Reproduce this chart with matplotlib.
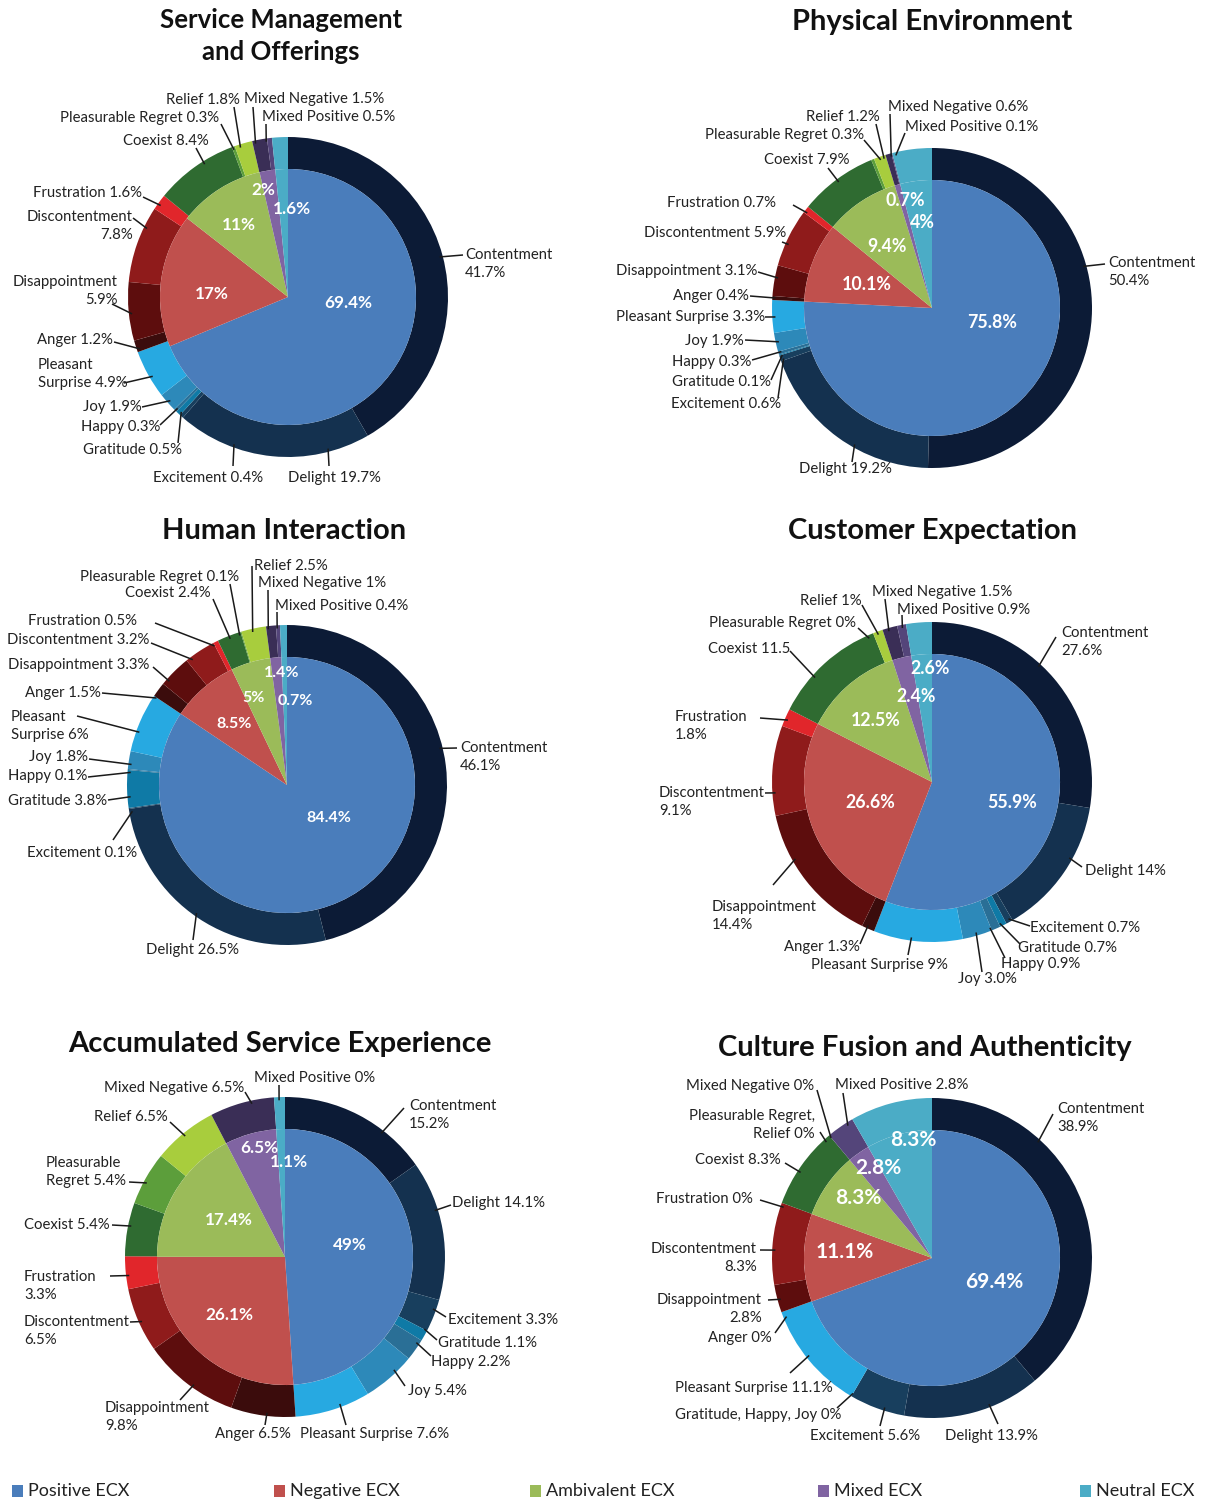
import math

import matplotlib.pyplot as plt
from matplotlib.patches import Rectangle

W, H = 1205, 1502

# Sub-emotions in the outer ring (clockwise from 12 o'clock)
categories = ["Contentment", "Delight", "Excitement", "Gratitude", "Happy", "Joy",
              "Pleasant Surprise", "Anger", "Disappointment", "Discontentment",
              "Frustration", "Coexist", "Pleasurable Regret", "Relief",
              "Mixed Negative", "Mixed Positive", "Neutral"]
groups = ["Positive ECX", "Negative ECX", "Ambivalent ECX", "Mixed ECX", "Neutral ECX"]

titles = ["Service Management\nand Offerings", "Physical Environment",
          "Human Interaction", "Customer Expectation",
          "Accumulated Service Experience", "Culture Fusion and Authenticity"]

sm_outer = [41.7, 19.7, 0.4, 0.5, 0.3, 1.9, 4.9, 1.2, 5.9, 7.8, 1.6, 8.4, 0.3, 1.8, 1.5, 0.5, 1.6]
pe_outer = [50.4, 19.2, 0.6, 0.1, 0.3, 1.9, 3.3, 0.4, 3.1, 5.9, 0.7, 7.9, 0.3, 1.2, 0.6, 0.1, 4.0]
hi_outer = [46.1, 26.5, 0.1, 3.8, 0.1, 1.8, 6.0, 1.5, 3.3, 3.2, 0.5, 2.4, 0.1, 2.5, 1.0, 0.4, 0.7]
ce_outer = [27.6, 14.0, 0.7, 0.7, 0.9, 3.0, 9.0, 1.3, 14.4, 9.1, 1.8, 11.5, 0.0, 1.0, 1.5, 0.9, 2.6]
ase_outer = [15.2, 14.1, 3.3, 1.1, 2.2, 5.4, 7.6, 6.5, 9.8, 6.5, 3.3, 5.4, 5.4, 6.5, 6.5, 0.0, 1.1]
cfa_outer = [38.9, 13.9, 5.6, 0.0, 0.0, 0.0, 11.1, 0.0, 2.8, 8.3, 0.0, 8.3, 0.0, 0.0, 0.0, 2.8, 8.3]

sm_inner = [69.4, 17, 11, 2, 1.6]
pe_inner = [75.8, 10.1, 9.4, 0.7, 4]
hi_inner = [84.4, 8.5, 5, 1.4, 0.7]
ce_inner = [55.9, 26.6, 12.5, 2.4, 2.6]
ase_inner = [49, 26.1, 17.4, 6.5, 1.1]
cfa_inner = [69.4, 11.1, 8.3, 2.8, 8.3]

outer_colors = ["#0c1b36", "#14314f", "#183f5e", "#0f7aa6", "#2a6f96", "#2d89b9",
                "#27a9e1", "#3b0c0c", "#5d0d0d", "#8f1b1b", "#e1262b", "#2f6b31",
                "#5c9e3b", "#a8cd3d", "#3a2e56", "#54457a", "#4bacc6"]
inner_colors = ["#4a7dbb", "#c0504d", "#9bbb59", "#8064a2", "#4bacc6"]

# Layout (pixels, y downwards): centre, radius, title position, inner label spots
# outer labels: text, x, y, ha, line end at text, point on ring
sm_labels = [
    ("Relief 1.8%", 240, 100, "right", 234, 107, 240, 146),
    ("Mixed Negative 1.5%", 244, 99, "left", 253, 107, 255, 141),
    ("Mixed Positive 0.5%", 262, 117, "left", 266, 124, 266, 140),
    ("Pleasurable Regret 0.3%", 219, 118, "right", 221, 124, 233, 147),
    ("Coexist 8.4%", 209, 141, "right", 196, 148, 202, 160),
    ("Frustration 1.6%", 142, 193, "right", 143, 197, 160, 205),
    ("Discontentment\n7.8%", 133, 226, "right", 133, 218, 148, 229),
    ("Disappointment\n5.9%", 118, 291, "right", 112, 304, 131, 314),
    ("Anger 1.2%", 113, 340, "right", 114, 342, 137, 350),
    ("Pleasant\nSurprise 4.9%", 38, 374, "left", 124, 383, 155, 375),
    ("Joy 1.9%", 142, 407, "right", 142, 407, 170, 401),
    ("Happy 0.3%", 160, 427, "right", 160, 425, 180, 406),
    ("Gratitude 0.5%", 182, 450, "right", 178, 443, 183, 410),
    ("Excitement 0.4%", 153, 478, "left", 233, 466, 233, 447),
    ("Delight 19.7%", 288, 478, "left", 329, 466, 329, 452),
    ("Contentment\n41.7%", 465, 264, "left", 463, 255, 447, 255),
]
pe_labels = [
    ("Mixed Negative 0.6%", 888, 107, "left", 890, 114, 890, 152),
    ("Relief 1.2%", 880, 117, "right", 876, 124, 882, 152),
    ("Mixed Positive 0.1%", 905, 127, "left", 905, 133, 895, 152),
    ("Pleasurable Regret 0.3%", 864, 135, "right", 864, 140, 878, 152),
    ("Coexist 7.9%", 850, 160, "right", 828, 168, 835, 177),
    ("Frustration 0.7%", 776, 203, "right", 793, 205, 806, 212),
    ("Discontentment 5.9%", 786, 233, "right", 782, 242, 792, 246),
    ("Disappointment 3.1%", 757, 271, "right", 758, 272, 778, 278),
    ("Anger 0.4%", 749, 296, "right", 750, 296, 775, 298),
    ("Pleasant Surprise 3.3%", 765, 317, "right", 765, 317, 775, 317),
    ("Joy 1.9%", 744, 341, "right", 745, 340, 778, 342),
    ("Happy 0.3%", 751, 362, "right", 752, 360, 780, 352),
    ("Gratitude 0.1%", 771, 382, "right", 771, 380, 782, 355),
    ("Excitement 0.6%", 781, 404, "right", 778, 398, 785, 358),
    ("Delight 19.2%", 799, 469, "left", 852, 462, 852, 449),
    ("Contentment\n50.4%", 1108, 272, "left", 1105, 264, 1092, 264),
]
hi_labels = [
    ("Relief 2.5%", 254, 566, "left", 252, 566, 252, 629),
    ("Pleasurable Regret 0.1%", 239, 577, "right", 230, 584, 238, 630),
    ("Mixed Negative 1%", 258, 583, "left", 268, 590, 268, 627),
    ("Coexist 2.4%", 211, 593, "right", 213, 599, 228, 633),
    ("Mixed Positive 0.4%", 275, 606, "left", 277, 612, 277, 626),
    ("Frustration 0.5%", 137, 621, "right", 155, 623, 213, 643),
    ("Discontentment 3.2%", 149, 640, "right", 151, 643, 193, 660),
    ("Disappointment 3.3%", 149, 665, "right", 153, 667, 168, 680),
    ("Anger 1.5%", 101, 693, "right", 102, 693, 155, 697),
    ("Pleasant\nSurprise 6%", 11, 726, "left", 77, 716, 136, 731),
    ("Joy 1.8%", 88, 757, "right", 89, 759, 128, 764),
    ("Happy 0.1%", 87, 776, "right", 88, 777, 126, 772),
    ("Gratitude 3.8%", 107, 801, "right", 108, 800, 127, 797),
    ("Excitement 0.1%", 27, 853, "left", 113, 840, 128, 812),
    ("Delight 26.5%", 146, 950, "left", 193, 940, 193, 918),
    ("Contentment\n46.1%", 460, 757, "left", 457, 748, 441, 748),
]
ce_labels = [
    ("Relief 1%", 862, 601, "right", 862, 605, 876, 628),
    ("Mixed Negative 1.5%", 872, 592, "left", 885, 599, 888, 628),
    ("Mixed Positive 0.9%", 897, 610, "left", 902, 615, 902, 626),
    ("Pleasurable Regret 0%", 856, 623, "right", 858, 628, 870, 640),
    ("Coexist 11.5", 790, 649, "right", 790, 651, 820, 682),
    ("Contentment\n27.6%", 1061, 642, "left", 1056, 637, 1040, 665),
    ("Frustration\n1.8%", 675, 726, "left", 760, 718, 783, 718),
    ("Discontentment\n9.1%", 659, 802, "left", 765, 793, 774, 793),
    ("Disappointment\n14.4%", 712, 916, "left", 773, 885, 797, 858),
    ("Anger 1.3%", 860, 947, "right", 860, 944, 867, 928),
    ("Pleasant Surprise 9%", 811, 965, "left", 908, 955, 911, 941),
    ("Joy 3.0%", 958, 979, "left", 982, 972, 978, 939),
    ("Happy 0.9%", 1001, 964, "left", 1005, 958, 992, 933),
    ("Gratitude 0.7%", 1018, 948, "left", 1020, 944, 1002, 928),
    ("Excitement 0.7%", 1030, 928, "left", 1030, 926, 1008, 918),
    ("Delight 14%", 1085, 871, "left", 1082, 867, 1073, 860),
]
ase_labels = [
    ("Mixed Positive 0%", 254, 1078, "left", 279, 1085, 279, 1098),
    ("Mixed Negative 6.5%", 244, 1088, "right", 245, 1092, 252, 1104),
    ("Contentment\n15.2%", 409, 1115, "left", 404, 1108, 383, 1131),
    ("Relief 6.5%", 168, 1117, "right", 170, 1122, 186, 1137),
    ("Pleasurable\nRegret 5.4%", 46, 1172, "left", 129, 1182, 145, 1182),
    ("Delight 14.1%", 452, 1203, "left", 451, 1205, 443, 1208),
    ("Coexist 5.4%", 110, 1225, "right", 112, 1225, 126, 1225),
    ("Frustration\n3.3%", 24, 1286, "left", 110, 1276, 125, 1276),
    ("Discontentment\n6.5%", 24, 1331, "left", 130, 1322, 141, 1322),
    ("Excitement 3.3%", 448, 1320, "left", 446, 1317, 436, 1310),
    ("Gratitude 1.1%", 438, 1343, "left", 437, 1340, 430, 1332),
    ("Happy 2.2%", 431, 1362, "left", 431, 1356, 420, 1345),
    ("Joy 5.4%", 408, 1391, "left", 405, 1386, 396, 1372),
    ("Disappointment\n9.8%", 105, 1417, "left", 180, 1400, 193, 1386),
    ("Anger 6.5%", 291, 1434, "right", 265, 1425, 267, 1413),
    ("Pleasant Surprise 7.6%", 300, 1434, "left", 346, 1425, 341, 1407),
]
cfa_labels = [
    ("Mixed Negative 0%", 814, 1086, "right", 817, 1090, 831, 1138),
    ("Mixed Positive 2.8%", 835, 1085, "left", 843, 1093, 843, 1118),
    ("Contentment\n38.9%", 1057, 1118, "left", 1053, 1114, 1040, 1140),
    ("Pleasurable Regret,\nRelief 0%", 815, 1125, "right", 820, 1132, 829, 1145),
    ("Coexist 8.3%", 781, 1160, "right", 785, 1163, 800, 1172),
    ("Frustration 0%", 753, 1199, "right", 760, 1200, 783, 1207),
    ("Discontentment\n8.3%", 757, 1258, "right", 760, 1250, 773, 1250),
    ("Disappointment\n2.8%", 762, 1309, "right", 768, 1300, 778, 1300),
    ("Anger 0%", 772, 1338, "right", 775, 1333, 783, 1318),
    ("Pleasant Surprise 11.1%", 675, 1388, "left", 790, 1373, 806, 1358),
    ("Gratitude, Happy, Joy 0%", 675, 1415, "left", 837, 1408, 855, 1390),
    ("Excitement 5.6%", 810, 1436, "left", 880, 1426, 884, 1410),
    ("Delight 13.9%", 945, 1436, "left", 998, 1424, 992, 1412),
]

charts = [
    dict(outer=sm_outer, inner=sm_inner, labels=sm_labels, c=(288, 297), r=160,
         tpos=(281, 36), tsize=18.5, isize=12.3,
         ipos=[(348, 303), (212, 294), (239, 225), (263, 190), (292, 209)]),
    dict(outer=pe_outer, inner=pe_inner, labels=pe_labels, c=(932, 308), r=160,
         tpos=(932, 22), tsize=21, isize=12.8,
         ipos=[(992, 322), (867, 285), (887, 247), (905, 200), (922, 223)]),
    dict(outer=hi_outer, inner=hi_inner, labels=hi_labels, c=(287, 785), r=160,
         tpos=(284, 531), tsize=21, isize=11.5,
         ipos=[(329, 818), (234, 724), (254, 698), (282, 673), (295, 701)]),
    dict(outer=ce_outer, inner=ce_inner, labels=ce_labels, c=(932, 782), r=160,
         tpos=(932, 531), tsize=21, isize=12.8,
         ipos=[(1012, 802), (870, 802), (876, 721), (916, 696), (930, 669)]),
    dict(outer=ase_outer, inner=ase_inner, labels=ase_labels, c=(285, 1257), r=160,
         tpos=(280, 1044), tsize=21, isize=12.3,
         ipos=[(350, 1245), (229, 1315), (229, 1220), (259, 1148), (289, 1162)]),
    dict(outer=cfa_outer, inner=cfa_inner, labels=cfa_labels, c=(932, 1258), r=160,
         tpos=(925, 1048), tsize=21, isize=15,
         ipos=[(994, 1282), (845, 1252), (858, 1198), (878, 1168), (913, 1140)]),
]

FONT = "Lato"

fig = plt.figure(figsize=(W / 100, H / 100), dpi=100)
ax = fig.add_axes([0, 0, 1, 1])


def fy(y):
    return H - y


for ch, title in zip(charts, titles):
    cx, cy = ch["c"]
    r = ch["r"]
    ax.pie(ch["outer"], radius=r, center=(cx, fy(cy)), colors=outer_colors,
           startangle=90, counterclock=False,
           wedgeprops=dict(width=0.2 * r, linewidth=0))
    ax.pie(ch["inner"], radius=0.8 * r, center=(cx, fy(cy)), colors=inner_colors,
           startangle=90, counterclock=False, wedgeprops=dict(linewidth=0))

    for val, (ix, iy) in zip(ch["inner"], ch["ipos"]):
        ax.text(ix, fy(iy), f"{val:g}%", ha="center", va="center", color="white",
                fontsize=ch["isize"], fontweight="bold", family=FONT)

    for text, tx, ty, ha, x1, y1, x2, y2 in ch["labels"]:
        ang = math.atan2(cy - y2, x2 - cx)
        sx = cx + 0.98 * r * math.cos(ang)
        sy = cy - 0.98 * r * math.sin(ang)
        ax.plot([x1, sx], [fy(y1), fy(sy)], color="#1a1a1a", lw=1.1,
                solid_capstyle="butt")
        ax.text(tx, fy(ty), text, ha=ha, va="center", multialignment=ha,
                fontsize=10.7, family=FONT, color="#222222", linespacing=1.45)

    tx, ty = ch["tpos"]
    ax.text(tx, fy(ty), title, ha="center", va="center", fontsize=ch["tsize"],
            fontweight="bold", family=FONT, color="#111111", linespacing=1.43)

# legend row at the bottom
legend_x = [12, 274, 530, 818, 1080]
for name, col, lx in zip(groups, inner_colors, legend_x):
    ax.add_patch(Rectangle((lx, fy(1497)), 11, 12, color=col, lw=0))
    ax.text(lx + 16, fy(1491), name, ha="left", va="center", fontsize=13,
            family=FONT, color="#222222")

ax.set_xlim(0, W)
ax.set_ylim(0, H)
ax.set_aspect("equal")
ax.axis("off")

fig.savefig("out.png", dpi=100, facecolor="white")
